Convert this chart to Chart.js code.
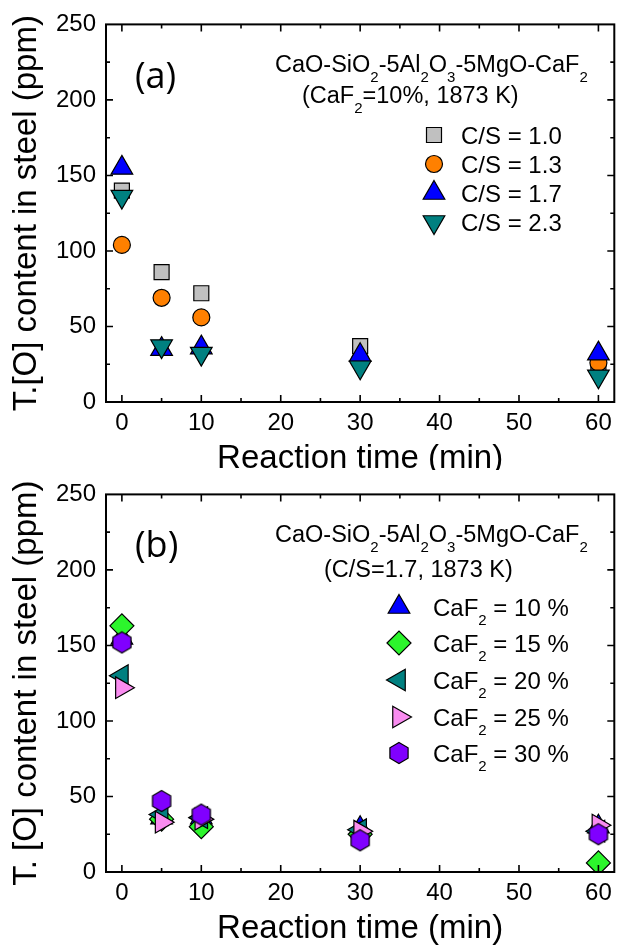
<!DOCTYPE html>
<html>
<head>
<meta charset="utf-8">
<script src="https://cdn.jsdelivr.net/npm/chart.js@4.4.1/dist/chart.umd.min.js"></script>
<style>
  html, body { margin: 0; padding: 0; background: #fff; overflow: hidden; }
  canvas { display: block; }
</style>
</head>
<body>
<canvas id="chartA" width="628" height="470"></canvas>
<canvas id="chartB" width="628" height="477"></canvas>
<script>
// ---------- data ----------
const times = [0, 5, 10, 30, 60];
const xMajor = [0, 10, 20, 30, 40, 50, 60];
const yMajor = [0, 50, 100, 150, 200, 250];

// (a) CaF2 = 10 %, different basicity
const csLabels = ["C/S = 1.0", "C/S = 1.3", "C/S = 1.7", "C/S = 2.3"];
const cs10 = [140, 86, 72, 37, 25];
const cs13 = [104, 69, 56, 28, 26];
const cs17 = [155, 35, 36, 31, 32];
const cs23 = [136, 37, 32, 23, 17];

// (b) C/S = 1.7, different CaF2 content
const cafLabels = ["10 %", "15 %", "20 %", "25 %", "30 %"];
const caf10 = [155, 36, 36, 29, 30];
const caf15 = [163, 35, 30, 25, 6];
const caf20 = [130, 38, 36, 28, 27];
const caf25 = [122, 33, 35, 27, 31];
const caf30 = [152, 47, 38, 21, 25];

const FONT = "'Liberation Sans', Arial, sans-serif";

// hexagon marker (no built-in style for it)
function hexagon(color) {
  const c = document.createElement("canvas");
  c.width = 24; c.height = 24;
  const g = c.getContext("2d");
  g.beginPath();
  for (let k = 0; k < 6; k++) {
    const a = (-90 + 60 * k) * Math.PI / 180;
    const px = 12 + Math.cos(a) * 10.5, py = 12 + Math.sin(a) * 10.5;
    k ? g.lineTo(px, py) : g.moveTo(px, py);
  }
  g.closePath();
  g.fillStyle = color; g.fill();
  g.lineWidth = 1.2; g.strokeStyle = "#000"; g.stroke();
  return c;
}

const toPoints = vals => times.map((t, i) => ({ x: t, y: vals[i] }));

// later series are drawn on top (lower order = drawn last)
function series(idx, label, vals, color, style, radius, rotation) {
  return {
    label,
    order: 10 - idx,
    data: toPoints(vals),
    pointStyle: style,
    pointRadius: radius,
    pointHoverRadius: radius,
    pointRotation: rotation || 0,
    backgroundColor: color,
    borderColor: "#000",
    borderWidth: 1.2,
    showLine: false,
  };
}

// text with subscripts: segs = [[text, isSub], ...]
function drawRich(ctx, x, y, segs, size, subSize, drop) {
  ctx.textBaseline = "alphabetic";
  ctx.textAlign = "left";
  segs.forEach(([t, sub]) => {
    ctx.font = (sub ? subSize : size) + "px " + FONT;
    ctx.fillText(t, x, sub ? y + drop : y);
    x += ctx.measureText(t).width;
  });
}

function framePlugin(cfg) {
  return {
    id: "frame",
    afterDraw(chart) {
      const { ctx, chartArea: a, scales: { x, y } } = chart;
      ctx.save();
      ctx.strokeStyle = "#000";
      ctx.lineWidth = 2;
      ctx.strokeRect(a.left, a.top, a.right - a.left, a.bottom - a.top);
      ctx.lineWidth = 1.6;
      ctx.beginPath();
      for (let v = 0; v <= 60; v += 5) {
        const px = x.getPixelForValue(v), len = v % 10 ? 4 : 7;
        ctx.moveTo(px, a.bottom); ctx.lineTo(px, a.bottom - len);
        ctx.moveTo(px, a.top); ctx.lineTo(px, a.top + len);
      }
      for (let v = 25; v < 250; v += 25) {
        const py = y.getPixelForValue(v), len = v % 50 ? 4 : 7;
        ctx.moveTo(a.left, py); ctx.lineTo(a.left + len, py);
        ctx.moveTo(a.right, py); ctx.lineTo(a.right - len, py);
      }
      ctx.stroke();

      ctx.fillStyle = "#000";
      ctx.font = "36px 'Open Sans', sans-serif";
      ctx.textBaseline = "alphabetic";
      ctx.fillText(cfg.panel, 135, cfg.panelY);

      cfg.lines.forEach(l => drawRich(ctx, l.x, l.y, l.segs, 23.5, 15, 10));

      chart.data.datasets.forEach((ds, i) => {
        const my = cfg.legY[i];
        ctx.fillStyle = ds.backgroundColor;
        ctx.strokeStyle = "#000";
        ctx.lineWidth = 1.2;
        Chart.helpers.drawPoint(ctx, {
          pointStyle: ds.pointStyle, rotation: ds.pointRotation,
          radius: ds.pointRadius, borderWidth: 1.2,
        }, cfg.legMarkX, my);
        ctx.fillStyle = "#000";
        drawRich(ctx, cfg.legTextX, my + 8.6, cfg.legSegs(i), 24, 15, 9);
      });
      ctx.restore();
    },
  };
}

function makeChart(id, datasets, yTitle, xBoxH, xTitlePad, plugin) {
  return new Chart(document.getElementById(id), {
    type: "scatter",
    data: { datasets },
    options: {
      responsive: false,
      animation: false,
      events: [],
      layout: { padding: { left: 0, top: 23, right: 3, bottom: 0 } },
      plugins: { legend: { display: false }, tooltip: { enabled: false } },
      scales: {
        x: {
          type: "linear", min: -2, max: 62,
          grid: { display: false, drawTicks: false },
          border: { display: false },
          afterBuildTicks: s => { s.ticks = xMajor.map(v => ({ value: v })); },
          afterFit: s => { s.height = xBoxH; },
          ticks: { color: "#000", font: { family: FONT, size: 24 }, padding: 7, maxRotation: 0, autoSkip: false },
          title: {
            display: true, text: "Reaction time (min)", color: "#000",
            font: { family: FONT, size: 33, lineHeight: 0.7 },
            padding: { top: 0, bottom: xTitlePad },
          },
        },
        y: {
          type: "linear", min: 0, max: 250,
          grid: { display: false, drawTicks: false },
          border: { display: false },
          afterBuildTicks: s => { s.ticks = yMajor.map(v => ({ value: v })); },
          afterFit: s => { s.width = 106; },
          ticks: { color: "#000", font: { family: FONT, size: 24 }, padding: 10 },
          title: {
            display: true, text: yTitle, color: "#000",
            font: { family: FONT, size: 33 },
            padding: { top: 7, bottom: 0 },
          },
        },
      },
    },
    plugins: [plugin],
  });
}

// ---------- panel (a) ----------
makeChart("chartA", [
  series(0, csLabels[0], cs10, "#c0c0c0", "rect", 10.6),
  series(1, csLabels[1], cs13, "#ff8000", "circle", 8.5),
  series(2, csLabels[2], cs17, "#0000ff", "triangle", 12.5),
  series(3, csLabels[3], cs23, "#008080", "triangle", 12.5, 180),
], "T.[O] content in steel (ppm)", 68, 0, framePlugin({
  panel: "(a)", panelY: 88,
  lines: [
    { x: 275, y: 72, segs: [["CaO-SiO", 0], ["2", 1], ["-5Al", 0], ["2", 1], ["O", 0], ["3", 1], ["-5MgO-CaF", 0], ["2", 1]] },
    { x: 302, y: 103, segs: [["(CaF", 0], ["2", 1], ["=10%, 1873 K)", 0]] },
  ],
  legMarkX: 434, legTextX: 461, legY: [135, 164, 193, 222],
  legSegs: i => [[csLabels[i], 0]],
}));

// ---------- panel (b) ----------
makeChart("chartB", [
  series(0, "CaF2 = " + cafLabels[0], caf10, "#0000ff", "triangle", 12.5),
  series(1, "CaF2 = " + cafLabels[1], caf15, "#2cf52c", "rectRot", 12),
  series(2, "CaF2 = " + cafLabels[2], caf20, "#008080", "triangle", 12.5, -90),
  series(3, "CaF2 = " + cafLabels[3], caf25, "#f98cf0", "triangle", 12.5, 90),
  series(4, "CaF2 = " + cafLabels[4], caf30, "#8000ff", hexagon("#8000ff"), 10),
], "T. [O] content in steel (ppm)", 75, 7, framePlugin({
  panel: "(b)", panelY: 87,
  lines: [
    { x: 275, y: 72, segs: [["CaO-SiO", 0], ["2", 1], ["-5Al", 0], ["2", 1], ["O", 0], ["3", 1], ["-5MgO-CaF", 0], ["2", 1]] },
    { x: 324, y: 107, segs: [["(C/S=1.7, 1873 K)", 0]] },
  ],
  legMarkX: 399, legTextX: 433, legY: [137, 173, 210, 247, 283],
  legSegs: i => [["CaF", 0], ["2", 1], [" = " + cafLabels[i], 0]],
}));
</script>
</body>
</html>
